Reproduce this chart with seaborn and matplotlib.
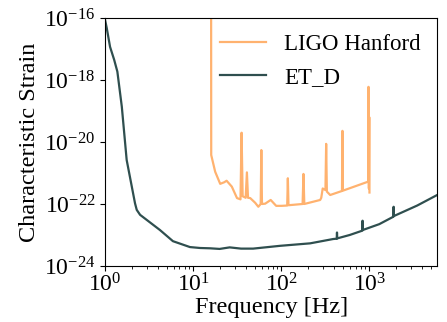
import numpy as np
import pandas as pd
import matplotlib
matplotlib.use("Agg")
import matplotlib.pyplot as plt
import seaborn as sns

# ---- data ----
et_freq = [1.0, 1.045, 1.14, 1.27, 1.38, 1.55, 1.76, 2.19, 2.29, 2.5, 4.2, 5.9, 9.2, 12.0,
           15.6, 20.0, 26.0, 35.0, 48.0, 97.0, 213.0, 390.0, 427.0, 430.0, 433.0, 600.0,
           835.0, 839.0, 843.0, 1300.0, 1880.0, 1890.0, 1900.0, 3500.0, 5900.0]
et_log_h = [-16.06, -16.32, -16.93, -17.35, -17.73, -18.86, -20.58, -21.98, -22.19, -22.35,
            -22.84, -23.2, -23.39, -23.42, -23.43, -23.45, -23.40, -23.44, -23.44, -23.35,
            -23.27, -23.13, -23.12, -22.92, -23.11, -23.0, -22.86, -22.54, -22.84, -22.65,
            -22.41, -22.09, -22.39, -22.05, -21.71]

ligo_freq = [16.0, 16.05, 17.8, 20.3, 22.5, 24.0, 27.5, 31.5, 34.5, 35.5, 36.5, 39.5, 40.8, 42.0,
             44.5, 50.6, 55.0, 58.5, 59.5, 60.5, 65.8, 76.0, 87.7, 101.0, 117.0, 119.0, 121.0,
             175.0, 179.0, 183.0, 277.0, 285.0, 296.0, 318.0, 324.0, 330.0, 360.0, 490.0, 496.0,
             502.0, 970.0, 980.0, 990.0, 1000.0, 1005.0]
ligo_log_h = [-14.5, -20.42, -20.96, -21.35, -21.30, -21.25, -21.44, -21.81, -21.85, -19.70,
              -21.75, -21.80, -20.98, -21.80, -21.81, -21.96, -22.09, -22.0, -20.26, -22.0,
              -21.99, -21.87, -22.06, -22.06, -22.05, -21.17, -22.04, -22.0, -21.03, -22.0,
              -21.87, -21.80, -21.50, -21.55, -20.06, -21.6, -21.71, -21.58, -19.64, -21.57,
              -21.28, -18.22, -21.5, -19.2, -21.63]

series_names = ["LIGO Hanford", "ET_D"]
series_colors = ["#FFB26F", "#2F4F4F"]

xlabel = "Frequency [Hz]"
ylabel = "Characteristic Strain"

# ---- build frame ----
df = pd.concat([
    pd.DataFrame({"f": ligo_freq, "h": 10.0 ** np.array(ligo_log_h), "det": series_names[0]}),
    pd.DataFrame({"f": et_freq, "h": 10.0 ** np.array(et_log_h), "det": series_names[1]}),
], ignore_index=True)

plt.rcParams["font.family"] = ["Liberation Serif", "DejaVu Serif"]
plt.rcParams["mathtext.fontset"] = "stix"

fig, ax = plt.subplots(figsize=(4.47, 3.22), dpi=100)
fig.subplots_adjust(left=0.235, right=0.978, top=0.944, bottom=0.174)

sns.lineplot(data=df, x="f", y="h", hue="det", hue_order=series_names,
             palette=dict(zip(series_names, series_colors)), sort=False,
             estimator=None, units="det", linewidth=1.6, ax=ax)

ax.set_xscale("log")
ax.set_yscale("log")
ax.set_xlim(1.0, 5900)
ax.set_ylim(1e-24, 1e-16)
ax.set_yticks([1e-24, 1e-22, 1e-20, 1e-18, 1e-16])
ax.yaxis.set_minor_locator(matplotlib.ticker.NullLocator())
ax.tick_params(labelsize=17)
ax.tick_params(axis="x", pad=2)
ax.set_xlabel(xlabel, fontsize=17.5, labelpad=0)
ax.set_ylabel(ylabel, fontsize=17.5, labelpad=3)

leg = ax.legend(frameon=False, loc="upper right", fontsize=16.5, handlelength=2.0,
                borderaxespad=0.3)
for line in leg.get_lines():
    line.set_linewidth(1.6)

fig.savefig("out.png", dpi=100)
